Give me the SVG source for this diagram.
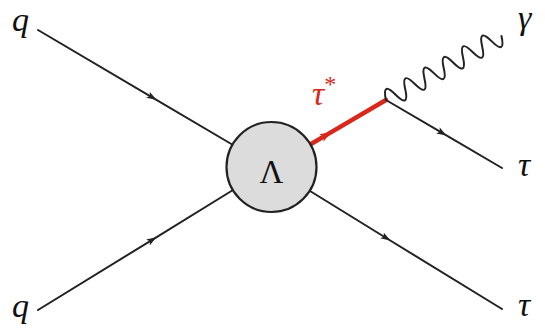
<svg xmlns="http://www.w3.org/2000/svg" width="545" height="328" viewBox="0 0 545 328">
<style>
.ln{fill:none;stroke:#222;stroke-width:2;stroke-linecap:round}
.red{fill:none;stroke:#d8281c;stroke-width:4.5;stroke-linecap:round}
.lbl{font-family:'Liberation Serif','Times New Roman','DejaVu Serif',Times,serif;font-style:italic;font-size:34px;fill:#111}
.rl{font-family:'Liberation Serif','Times New Roman','DejaVu Serif',Times,serif;font-style:italic;fill:#d8281c}
.up{font-family:'Liberation Serif','Times New Roman','DejaVu Serif',Times,serif;font-size:33px;fill:#111}
</style>
<defs>
<marker id="ar" viewBox="0 0 10 10" refX="6" refY="5" markerWidth="10" markerHeight="10" markerUnits="userSpaceOnUse" orient="auto">
<path d="M0,1.5 L10,5 L0,8.5 L2.5,5 Z" fill="#222"/>
</marker>
<marker id="arr" viewBox="0 0 10 10" refX="6" refY="5" markerWidth="11" markerHeight="11" markerUnits="userSpaceOnUse" orient="auto">
<path d="M0,1 L10,5 L0,9 L2.5,5 Z" fill="#d8281c"/>
</marker>
</defs>
<g id="connectors">
<path class="ln" d="M38,30 L153,97.8 L233,145" marker-mid="url(#ar)"/>
<path class="ln" d="M38,310 L153,239.3 L233,190" marker-mid="url(#ar)"/>
<path class="ln" d="M310,191 L387,238.5 L502,309" marker-mid="url(#ar)"/>
<path class="red" d="M311,144 L327,134.6 L386,100" marker-mid="url(#arr)"/>
<path class="ln" d="M386,100 L443,133.4 L502,168" marker-mid="url(#ar)"/>
<g transform="translate(386,100) rotate(-29)">
<path class="ln" d="M0,0 q5.5,-19 11,0 t11,0 t11,0 t11,0 t11,0 t11,0 t11,0 t11,0 t11,0 t11,0 t11,0 t11,0"/>
</g>
</g>
<g id="vertex">
<circle cx="271.5" cy="167" r="45" fill="#dcdcdc" stroke="#222" stroke-width="2.2"/>
<text class="up" x="271.5" y="183" text-anchor="middle">Λ</text>
</g>
<g id="q-top"><text class="lbl" x="12" y="31">q</text></g>
<g id="q-bottom"><text class="lbl" x="12" y="317">q</text></g>
<g id="gamma"><text class="lbl" x="518" y="29" font-size="32">γ</text></g>
<g id="tau-right"><text class="lbl" x="518" y="176">τ</text></g>
<g id="tau-bottom"><text class="lbl" x="518" y="316">τ</text></g>
<g id="tau-star"><text class="rl" x="312" y="105" font-size="34">τ<tspan font-size="24" font-style="normal" dy="-13">*</tspan></text></g>
</svg>
